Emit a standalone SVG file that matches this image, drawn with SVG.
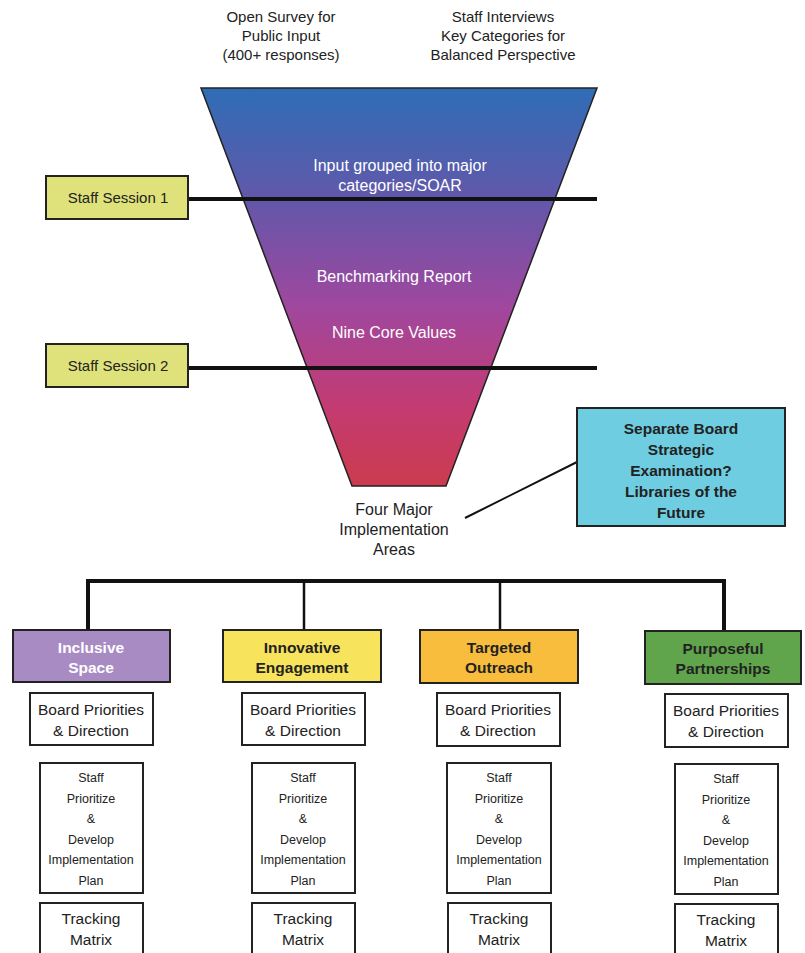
<svg xmlns="http://www.w3.org/2000/svg" width="805" height="953" viewBox="0 0 805 953">
<defs>
<linearGradient id="fg" x1="0" y1="0" x2="0" y2="1">
<stop offset="0" stop-color="#2f6db6"/>
<stop offset="0.3" stop-color="#6656a9"/>
<stop offset="0.55" stop-color="#a0479e"/>
<stop offset="0.8" stop-color="#c33b72"/>
<stop offset="1" stop-color="#cc3b4e"/>
</linearGradient>
</defs>
<style>
text{font-family:"Liberation Sans",Arial,sans-serif;text-anchor:middle;fill:#222}
.top{font-size:15px}
.fun{font-size:16px;fill:#fff}
.bx{stroke:#222;stroke-width:2}
.bold{font-weight:bold;font-size:15.5px}
.wb{fill:#fff;stroke:#222;stroke-width:2}
.bp{font-size:15.5px}
.sp{font-size:12.5px}
.conn{stroke:#111;fill:none}
</style>
<g id="top-labels">
<text class="top" x="281" y="22">Open Survey for</text>
<text class="top" x="281" y="41">Public Input</text>
<text class="top" x="281" y="60">(400+ responses)</text>
<text class="top" x="503" y="22">Staff Interviews</text>
<text class="top" x="503" y="41">Key Categories for</text>
<text class="top" x="503" y="60">Balanced Perspective</text>
</g>
<g id="funnel">
<polygon points="201,88 597,88 446,486 352,486" fill="url(#fg)" stroke="#222" stroke-width="1.5"/>
<text class="fun" x="400" y="171">Input grouped into major</text>
<text class="fun" x="400" y="191">categories/SOAR</text>
<text class="fun" x="394" y="282">Benchmarking Report</text>
<text class="fun" x="394" y="338">Nine Core Values</text>
</g>
<g id="connectors">
<line class="conn" x1="188" y1="199" x2="597" y2="199" stroke-width="4"/>
<line class="conn" x1="188" y1="368" x2="597" y2="368" stroke-width="4"/>
<line class="conn" x1="465" y1="518" x2="577" y2="462" stroke-width="2"/>
<polyline class="conn" points="88,632 88,581 724,581 724,632" stroke-width="4"/>
<line class="conn" x1="304" y1="581" x2="304" y2="632" stroke-width="2.5"/>
<line class="conn" x1="500" y1="581" x2="500" y2="632" stroke-width="2.5"/>
</g>
<g id="session1">
<rect class="bx" x="46" y="176" width="142" height="43" fill="#dfe17b"/>
<text x="118" y="203" font-size="15">Staff Session 1</text>
</g>
<g id="session2">
<rect class="bx" x="46" y="344" width="142" height="43" fill="#dfe17b"/>
<text x="118" y="371" font-size="15">Staff Session 2</text>
</g>
<g id="board-exam">
<rect class="bx" x="577" y="408" width="208" height="118" fill="#6ecde1"/>
<text class="bold" x="681" y="434">Separate Board</text>
<text class="bold" x="681" y="455">Strategic</text>
<text class="bold" x="681" y="476">Examination?</text>
<text class="bold" x="681" y="497">Libraries of the</text>
<text class="bold" x="681" y="518">Future</text>
</g>
<g id="four-areas">
<text x="394" y="515" font-size="16">Four Major</text>
<text x="394" y="535" font-size="16">Implementation</text>
<text x="394" y="555" font-size="16">Areas</text>
</g>
<g id="inclusive-space">
<rect class="bx" x="13" y="630" width="157" height="52" fill="#a98bc3"/>
<text class="bold" x="91" y="653" style="fill:#fff">Inclusive</text>
<text class="bold" x="91" y="673" style="fill:#fff">Space</text>
</g>
<g id="innovative-engagement">
<rect class="bx" x="223" y="630" width="158" height="52" fill="#f8e35c"/>
<text class="bold" x="302" y="653">Innovative</text>
<text class="bold" x="302" y="673">Engagement</text>
</g>
<g id="targeted-outreach">
<rect class="bx" x="420" y="630" width="158" height="53" fill="#f8bd3c"/>
<text class="bold" x="499" y="653">Targeted</text>
<text class="bold" x="499" y="673">Outreach</text>
</g>
<g id="purposeful-partnerships">
<rect class="bx" x="645" y="631" width="156" height="53" fill="#60a44c"/>
<text class="bold" x="723" y="654">Purposeful</text>
<text class="bold" x="723" y="674">Partnerships</text>
</g>
<g id="board1">
<rect class="wb" x="30" y="693" width="123" height="52"/>
<text class="bp" x="91" y="715">Board Priorities</text>
<text class="bp" x="91" y="736">&amp; Direction</text>
</g>
<g id="board2">
<rect class="wb" x="242" y="693" width="123" height="52"/>
<text class="bp" x="303" y="715">Board Priorities</text>
<text class="bp" x="303" y="736">&amp; Direction</text>
</g>
<g id="board3">
<rect class="wb" x="437" y="693" width="123" height="53"/>
<text class="bp" x="498" y="715">Board Priorities</text>
<text class="bp" x="498" y="736">&amp; Direction</text>
</g>
<g id="board4">
<rect class="wb" x="665" y="694" width="123" height="53"/>
<text class="bp" x="726" y="716">Board Priorities</text>
<text class="bp" x="726" y="737">&amp; Direction</text>
</g>
<g id="staff1">
<rect class="wb" x="40" y="763" width="103" height="130"/>
<text class="sp" x="91" y="782">Staff</text>
<text class="sp" x="91" y="803">Prioritize</text>
<text class="sp" x="91" y="823">&amp;</text>
<text class="sp" x="91" y="844">Develop</text>
<text class="sp" x="91" y="864">Implementation</text>
<text class="sp" x="91" y="885">Plan</text>
</g>
<g id="staff2">
<rect class="wb" x="252" y="763" width="103" height="130"/>
<text class="sp" x="303" y="782">Staff</text>
<text class="sp" x="303" y="803">Prioritize</text>
<text class="sp" x="303" y="823">&amp;</text>
<text class="sp" x="303" y="844">Develop</text>
<text class="sp" x="303" y="864">Implementation</text>
<text class="sp" x="303" y="885">Plan</text>
</g>
<g id="staff3">
<rect class="wb" x="447" y="763" width="104" height="130"/>
<text class="sp" x="499" y="782">Staff</text>
<text class="sp" x="499" y="803">Prioritize</text>
<text class="sp" x="499" y="823">&amp;</text>
<text class="sp" x="499" y="844">Develop</text>
<text class="sp" x="499" y="864">Implementation</text>
<text class="sp" x="499" y="885">Plan</text>
</g>
<g id="staff4">
<rect class="wb" x="675" y="764" width="103" height="130"/>
<text class="sp" x="726" y="783">Staff</text>
<text class="sp" x="726" y="804">Prioritize</text>
<text class="sp" x="726" y="824">&amp;</text>
<text class="sp" x="726" y="845">Develop</text>
<text class="sp" x="726" y="865">Implementation</text>
<text class="sp" x="726" y="886">Plan</text>
</g>
<g id="tracking1">
<rect class="wb" x="40" y="903" width="103" height="60"/>
<text class="bp" x="91" y="924">Tracking</text>
<text class="bp" x="91" y="945">Matrix</text>
</g>
<g id="tracking2">
<rect class="wb" x="252" y="903" width="103" height="60"/>
<text class="bp" x="303" y="924">Tracking</text>
<text class="bp" x="303" y="945">Matrix</text>
</g>
<g id="tracking3">
<rect class="wb" x="448" y="903" width="103" height="60"/>
<text class="bp" x="499" y="924">Tracking</text>
<text class="bp" x="499" y="945">Matrix</text>
</g>
<g id="tracking4">
<rect class="wb" x="675" y="904" width="103" height="60"/>
<text class="bp" x="726" y="925">Tracking</text>
<text class="bp" x="726" y="946">Matrix</text>
</g>
</svg>
